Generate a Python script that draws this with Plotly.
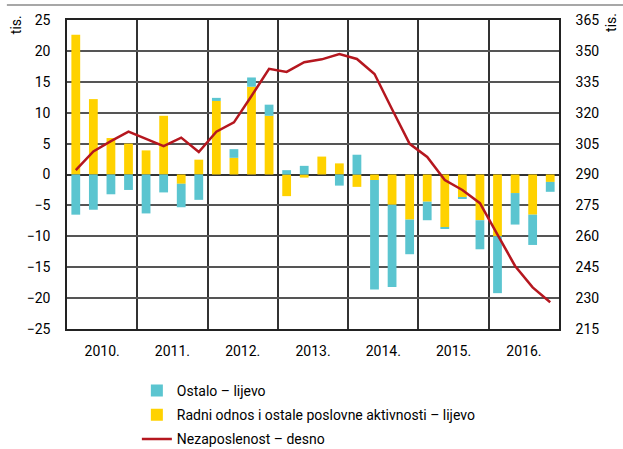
import plotly.graph_objects as go

# kvartali 2010.-2016.
years = ["2010.", "2011.", "2012.", "2013.", "2014.", "2015.", "2016."]
quarters = list(range(28))

radni = [22.6, 12.2, 5.9, 5.0, 3.9, 9.5, -1.5, 2.4,
         11.9, 2.7, 14.2, 9.5, -3.5, -0.5, 2.9, 1.8,
         -2.0, -0.9, -4.9, -7.3, -4.4, -8.5, -3.7, -7.4,
         -10.0, -3.0, -6.5, -1.2]
ostalo = [-6.5, -5.7, -3.2, -2.5, -6.3, -2.9, -3.8, -4.1,
          0.5, 1.4, 1.5, 1.8, 0.7, 1.4, 0.0, -1.8,
          3.2, -17.7, -13.3, -5.6, -3.0, -0.2, -0.2, -4.7,
          -9.2, -5.1, -4.9, -1.6]
nezaposlenost = [292.1, 301.2, 306.2, 310.8, 307.3, 303.8, 307.9, 300.9,
                 310.8, 315.3, 328.1, 341.3, 339.8, 344.5, 345.9, 348.5,
                 346.1, 338.8, 321.7, 304.9, 298.5, 287.3, 282.5, 276.1,
                 260.8, 245.6, 235.2, 228.0]

FONT = "Roboto, Arial, sans-serif"
TEAL = "#5bc5d0"
YELLOW = "#ffd200"
RED = "#b5171f"

fig = go.Figure()
fig.add_trace(go.Bar(x=quarters, y=radni, name="Radni odnos i ostale poslovne aktivnosti – lijevo",
                     marker=dict(color=YELLOW, line=dict(width=0)), width=0.5,
                     legendrank=2, legendgroup="b"))
fig.add_trace(go.Bar(x=quarters, y=ostalo, name="Ostalo – lijevo",
                     marker=dict(color=TEAL, line=dict(width=0)), width=0.5,
                     legendrank=1, legendgroup="a"))
fig.add_trace(go.Scatter(x=quarters, y=nezaposlenost, name="Nezaposlenost – desno",
                         mode="lines", line=dict(color=RED, width=2.5), yaxis="y2",
                         legendrank=3, legendgroup="c"))

fig.update_layout(
    width=623, height=449,
    barmode="relative",
    plot_bgcolor="white", paper_bgcolor="white",
    margin=dict(l=67, r=64, t=20, b=120, autoexpand=False),
    font=dict(family=FONT, size=14, color="black"),
    xaxis=dict(
        range=[-0.5, 27.5],
        tickmode="array", tickvals=[1.5, 5.5, 9.5, 13.5, 17.5, 21.5, 25.5], ticktext=years,
        showgrid=False, ticks="", showline=True, linecolor="#222", linewidth=1.5, mirror=True,
        minor=dict(tickmode="array", tickvals=[3.5, 7.5, 11.5, 15.5, 19.5, 23.5],
                   showgrid=True, gridcolor="#333", gridwidth=1.5, ticks=""),
        ticklabelstandoff=8,
    ),
    yaxis=dict(
        range=[-25, 25], dtick=5, showgrid=True, gridcolor="#555", gridwidth=1.5,
        zeroline=True, zerolinecolor="#333", zerolinewidth=2,
        showline=True, linecolor="#222", linewidth=1.5, ticks="", ticklabelstandoff=12,
    ),
    yaxis2=dict(
        range=[215, 365], tick0=215, dtick=15, overlaying="y", side="right",
        showgrid=False, zeroline=False,
        showline=True, linecolor="#222", linewidth=1.5, ticks="", ticklabelstandoff=12,
    ),
    legend=dict(x=0.142, y=1 - 375 / 449, yref="container", xanchor="left", yanchor="top",
                traceorder="grouped", font=dict(size=14), itemwidth=30, tracegroupgap=3,
                bgcolor="rgba(0,0,0,0)"),
)
# tanka siva linija na vrhu
fig.add_shape(type="line", xref="paper", yref="paper",
              x0=-60 / 491, x1=1 + 64 / 491, y0=1 + 15 / 309, y1=1 + 15 / 309,
              line=dict(color="#8a8a8a", width=1.5))
fig.add_annotation(text="tis.", xref="paper", yref="paper", x=-0.104, y=1.02,
                   xanchor="center", yanchor="top", textangle=-90, showarrow=False,
                   font=dict(size=14), borderpad=0)
fig.add_annotation(text="tis.", xref="paper", yref="paper", x=1.106, y=1.025,
                   xanchor="center", yanchor="top", textangle=-90, showarrow=False,
                   font=dict(size=14), borderpad=0)

fig.write_html("out.html", config={"displayModeBar": False},
               post_script="document.body.style.margin='0px';")
